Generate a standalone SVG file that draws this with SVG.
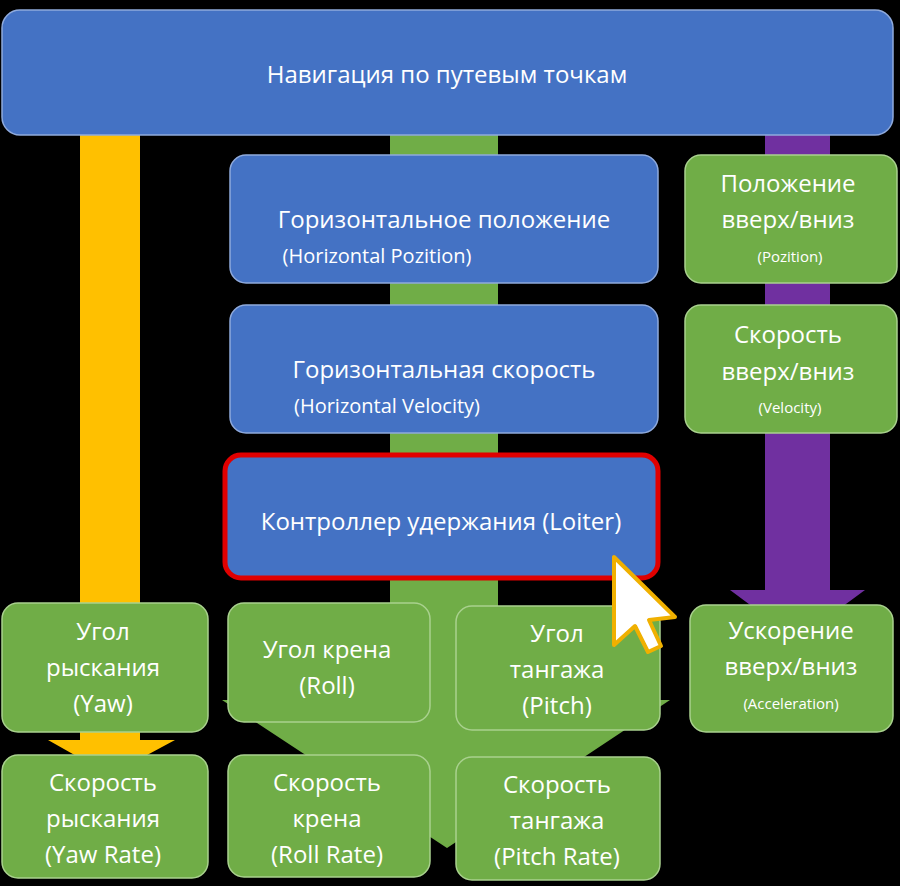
<svg xmlns="http://www.w3.org/2000/svg" width="900" height="886" viewBox="0 0 900 886">
<style>
.b{fill:#4472C4;stroke:#8FAADC;stroke-width:1.5}
.g{fill:#70AD47;stroke:#A9D18E;stroke-width:1.5}
text{font-family:"Open Sans","Noto Sans",sans-serif;fill:#fff;text-anchor:middle}
.t{font-size:24px}
.s{font-size:20px}
.x{font-size:15px}
</style>
<rect width="900" height="886" fill="#000"/>
<g id="connectors">
<polygon points="80,130 140,130 140,740 175,740 110,775 48,740 80,740" fill="#FFC000"/>
<polygon points="390,130 498,130 498,700 670,700 447,848 222,700 390,700" fill="#70AD47"/>
<polygon points="765,130 830,130 830,590 865,590 797,640 730,590 765,590" fill="#7030A0"/>
</g>
<g id="nav"><rect class="b" x="2" y="10" width="891" height="125" rx="18"/><text class="t" x="447" y="83">Навигация по путевым точкам</text></g>
<g id="hpos"><rect class="b" x="230" y="155" width="428" height="128" rx="16"/><text class="t" x="444" y="228">Горизонтальное положение</text><text class="s" x="377" y="263">(Horizontal Pozition)</text></g>
<g id="hvel"><rect class="b" x="230" y="305" width="428" height="128" rx="16"/><text class="t" x="444" y="378">Горизонтальная скорость</text><text class="s" x="387" y="413">(Horizontal Velocity)</text></g>
<g id="loiter"><rect x="225" y="455" width="433" height="123" rx="16" fill="#4472C4" stroke="#E00000" stroke-width="5"/><text class="t" x="441" y="530">Контроллер удержания (Loiter)</text></g>
<g id="vpos"><rect class="g" x="685" y="155" width="212" height="128" rx="16"/><text class="t" x="788" y="192">Положение</text><text class="t" x="788" y="228">вверх/вниз</text><text class="x" x="790" y="262">(Pozition)</text></g>
<g id="vvel"><rect class="g" x="685" y="305" width="212" height="128" rx="16"/><text class="t" x="788" y="343">Скорость</text><text class="t" x="788" y="380">вверх/вниз</text><text class="x" x="790" y="413">(Velocity)</text></g>
<g id="vacc"><rect class="g" x="690" y="605" width="203" height="127" rx="16"/><text class="t" x="791" y="639">Ускорение</text><text class="t" x="791" y="675">вверх/вниз</text><text class="x" x="791" y="709">(Acceleration)</text></g>
<g id="yaw"><rect class="g" x="2" y="603" width="206" height="129" rx="16"/><text class="t" x="103" y="640">Угол</text><text class="t" x="103" y="676">рыскания</text><text class="t" x="103" y="712">(Yaw)</text></g>
<g id="roll"><rect class="g" x="228" y="603" width="202" height="119" rx="16"/><text class="t" x="327" y="658">Угол крена</text><text class="t" x="327" y="694">(Roll)</text></g>
<g id="pitch"><rect class="g" x="456" y="606" width="204" height="124" rx="16"/><text class="t" x="557" y="642">Угол</text><text class="t" x="557" y="678">тангажа</text><text class="t" x="557" y="714">(Pitch)</text></g>
<g id="yawrate"><rect class="g" x="2" y="755" width="206" height="123" rx="16"/><text class="t" x="103" y="791">Скорость</text><text class="t" x="103" y="827">рыскания</text><text class="t" x="103" y="863">(Yaw Rate)</text></g>
<g id="rollrate"><rect class="g" x="228" y="755" width="202" height="122" rx="16"/><text class="t" x="327" y="791">Скорость</text><text class="t" x="327" y="827">крена</text><text class="t" x="327" y="863">(Roll Rate)</text></g>
<g id="pitchrate"><rect class="g" x="456" y="757" width="204" height="123" rx="16"/><text class="t" x="557" y="793">Скорость</text><text class="t" x="557" y="829">тангажа</text><text class="t" x="557" y="865">(Pitch Rate)</text></g>
<polygon points="614,557 614,645 635,626 648,652 661,646 649,620 675,617" fill="#fff" stroke="#F0B000" stroke-width="4" stroke-linejoin="round"/>
</svg>
